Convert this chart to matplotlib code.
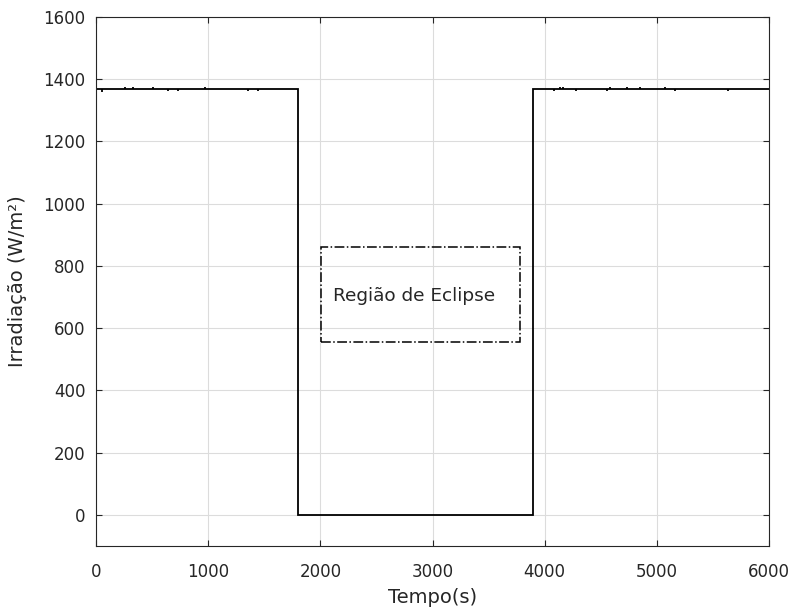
import matplotlib
matplotlib.use("Agg")
import matplotlib.pyplot as plt
from matplotlib.patches import Rectangle

# step profile of the irradiance (s, W/m^2)
tempo = [0, 1800, 1800, 3900, 3900, 6000]
irradiacao = [1367, 1367, 0, 0, 1367, 1367]

# small measurement spikes on the sunlit plateau
spike_t = [53, 258, 330, 508, 642, 731, 971, 1355, 1444,
           4082, 4135, 4162, 4278, 4554, 4581, 4733, 4848, 5071, 5160, 5633]
spike_v = [1360, 1374, 1374, 1374, 1361, 1361, 1374, 1361, 1361,
           1361, 1374, 1374, 1361, 1361, 1374, 1374, 1374, 1374, 1361, 1361]

# eclipse region box
box_x0, box_x1 = 2005, 3780
box_y0, box_y1 = 556, 861

plt.rcParams['font.family'] = ['DejaVu Sans']

fig = plt.figure(figsize=(7.91, 6.11), dpi=100)
ax = fig.add_axes([0.1214, 0.1064, 0.8508, 0.8658])

ax.plot(tempo, irradiacao, color='black', lw=1.3, solid_joinstyle='miter')
ax.vlines(spike_t, 1367, spike_v, color='black', lw=1.3)

ax.add_patch(Rectangle((box_x0, box_y0), box_x1 - box_x0, box_y1 - box_y0,
                       fill=False, ls='-.', lw=1.1, edgecolor='black'))
ax.text(2110, 704, 'Região de Eclipse', fontsize=13.3, color='#262626',
        va='center', ha='left')

ax.set_xlim(0, 6000)
ax.set_ylim(-100, 1600)
ax.set_xticks(range(0, 6001, 1000))
ax.set_yticks(range(0, 1601, 200))
ax.grid(True, color='#dcdcdc', lw=0.8)
ax.set_axisbelow(True)
ax.tick_params(direction='in', top=True, right=True, length=4,
               labelsize=12, colors='#262626')
ax.tick_params(axis='x', pad=12)
ax.tick_params(axis='y', pad=7.5)
for s in ax.spines.values():
    s.set_color('#262626')
    s.set_linewidth(0.8)

ax.set_xlabel('Tempo(s)', fontsize=14, color='#262626', labelpad=5)
ax.set_ylabel('Irradiação (W/m²)', fontsize=14, color='#262626', labelpad=12)

fig.savefig('out.png', dpi=100)
